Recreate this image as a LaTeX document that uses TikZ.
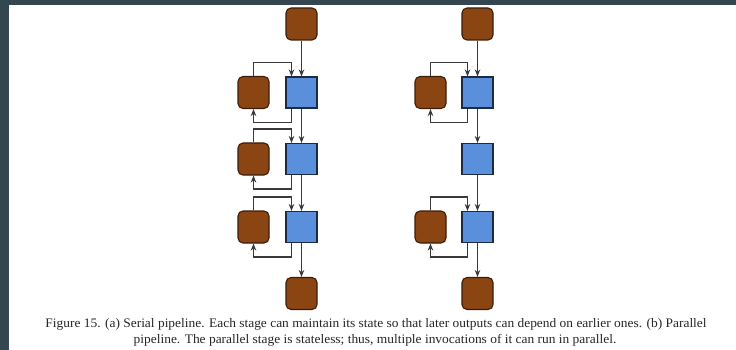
\documentclass[tikz,border=0pt]{standalone}
\usepackage{graphicx}
\usepackage{fontspec}
\setmainfont{Liberation Serif}
\usetikzlibrary{arrows.meta,calc}
\definecolor{frame}{HTML}{34464F}
\definecolor{statefill}{HTML}{8B4513}
\definecolor{statedraw}{HTML}{3A1E0A}
\definecolor{stagefill}{HTML}{5A8FDB}
\definecolor{stagedraw}{HTML}{1E2B45}
\definecolor{wire}{HTML}{3A3A3A}
\newcommand{\capline}[1]{\scalebox{1.033}[1]{#1}}
\begin{document}
\begin{tikzpicture}[x=1pt,y=-1pt,
  statebox/.style={draw=statedraw,fill=statefill,line width=1.1pt,rounded corners=5pt,
    minimum width=31pt,minimum height=32pt,inner sep=0pt},
  stagebox/.style={draw=stagedraw,fill=stagefill,line width=1.1pt,
    minimum width=31pt,minimum height=31pt,inner sep=0pt},
  arr/.style={draw=wire,line width=1.3pt,-{Stealth[length=7pt,width=5.5pt]}},
  captext/.style={font=\fontsize{13}{16}\selectfont,text=black!85,inner sep=0pt,anchor=base}]
  % page and frame
  \fill[frame] (0,0) rectangle (736,350);
  \fill[white] (8.5,4.7) rectangle (736,350);
  \useasboundingbox (0,0) rectangle (736,350);

  % (a) serial pipeline
  \node[statebox] (inA)  at (301.5,24)    {};
  \node[stagebox] (sgA1) at (301.5,92.5)  {};
  \node[statebox] (stA1) at (253.5,92.5)  {};
  \node[stagebox] (sgA2) at (301.5,159)   {};
  \node[statebox] (stA2) at (253.5,159)   {};
  \node[stagebox] (sgA3) at (301.5,227)   {};
  \node[statebox] (stA3) at (253.5,227)   {};
  \node[statebox] (outA) at (301.5,293.5) {};

  \draw[arr] (inA) -- (sgA1);
  \draw[arr] (sgA1) -- (sgA2);
  \draw[arr] (sgA2) -- (sgA3);
  \draw[arr] (sgA3) -- (outA);
  \foreach \i in {1,2,3}{
    \draw[arr] (stA\i.north) |- ($(sgA\i.north)+(-10,-14)$) -- ($(sgA\i.north)+(-10,0)$);
    \draw[arr] ($(sgA\i.south)+(-10,0)$) -- ++(0,14) -| (stA\i.south);
  }

  % (b) parallel pipeline
  \node[statebox] (inB)  at (477.5,24)    {};
  \node[stagebox] (sgB1) at (477.5,92.5)  {};
  \node[statebox] (stB1) at (430.5,92.5)  {};
  \node[stagebox] (sgB2) at (477.5,159)   {};
  \node[stagebox] (sgB3) at (477.5,227)   {};
  \node[statebox] (stB3) at (430.5,227)   {};
  \node[statebox] (outB) at (477.5,293.5) {};

  \draw[arr] (inB) -- (sgB1);
  \draw[arr] (sgB1) -- (sgB2);
  \draw[arr] (sgB2) -- (sgB3);
  \draw[arr] (sgB3) -- (outB);
  \foreach \i in {1,3}{
    \draw[arr] (stB\i.north) |- ($(sgB\i.north)+(-10,-14)$) -- ($(sgB\i.north)+(-10,0)$);
    \draw[arr] ($(sgB\i.south)+(-10,0)$) -- ++(0,14) -| (stB\i.south);
  }

  % caption
  \node[captext] (cap1) at (376,327.5) {\capline{Figure 15. (a) Serial pipeline. Each stage can maintain its state so that later outputs can depend on earlier ones. (b) Parallel}};
  \node[captext] (cap2) at (375,343.5) {\capline{pipeline. The parallel stage is stateless; thus, multiple invocations of it can run in parallel.}};
\end{tikzpicture}
\end{document}
